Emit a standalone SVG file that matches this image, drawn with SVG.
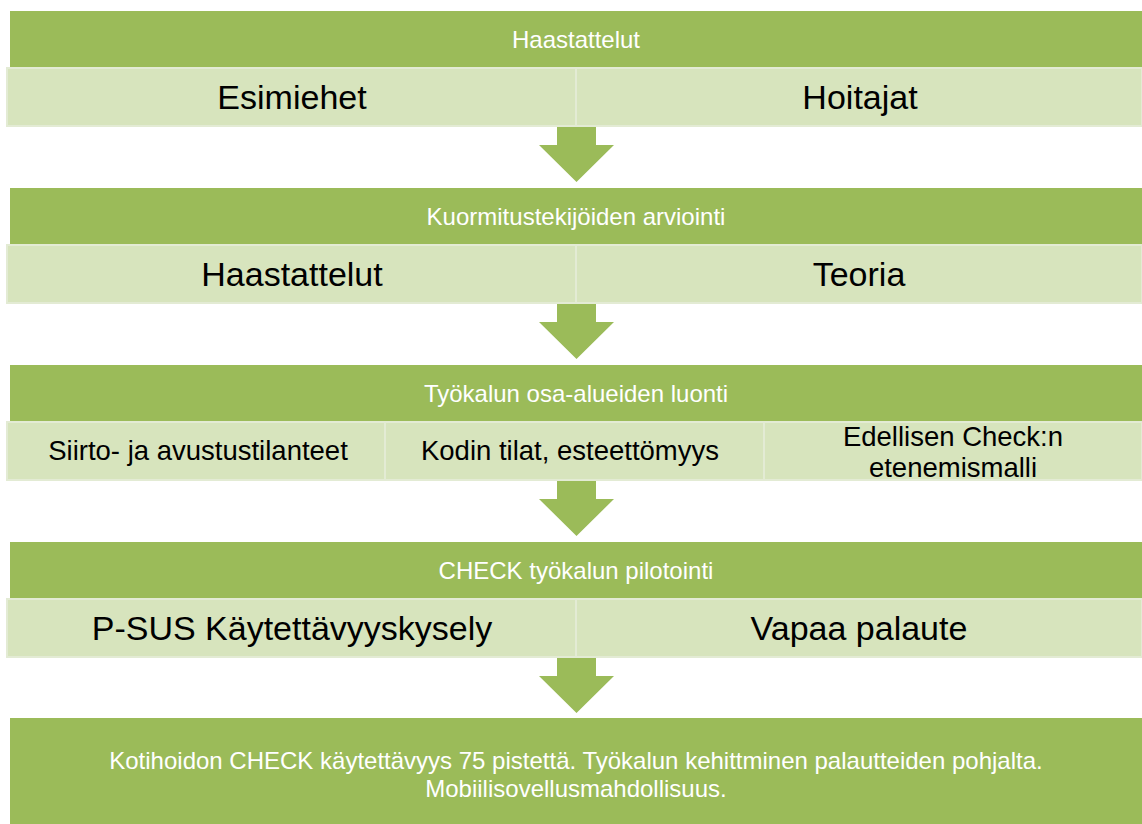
<svg xmlns="http://www.w3.org/2000/svg" width="1142" height="824" viewBox="0 0 1142 824">
<defs>
<style>
.band{fill:#9BBB59}
.sub{fill:#D7E4BD;stroke:#E3EBD4;stroke-width:2}
.arrow{fill:#9BBB59}
.hd{font-family:"Liberation Sans",Arial,sans-serif;font-size:24px;fill:#FFFFFF;text-anchor:middle}
.big{font-family:"Liberation Sans",Arial,sans-serif;font-size:34px;fill:#000000;text-anchor:middle}
.mid{font-family:"Liberation Sans",Arial,sans-serif;font-size:27.5px;fill:#000000;text-anchor:middle}
</style>
<path id="arr" d="M557,0 H596 V19 H614 L576.5,56 L539,19 H557 Z"/>
</defs>
<rect width="1142" height="824" fill="#FFFFFF"/>

<g id="connectors">
<use href="#arr" class="arrow" y="126"/>
<use href="#arr" class="arrow" y="303"/>
<use href="#arr" class="arrow" y="480"/>
<use href="#arr" class="arrow" y="657"/>
</g>

<g id="step1">
<rect class="band" x="10" y="11" width="1132" height="113"/>
<text class="hd" x="576" y="48">Haastattelut</text>
<g id="step1-a"><rect class="sub" x="7" y="68" width="569" height="58"/><text class="big" x="292" y="109">Esimiehet</text></g>
<g id="step1-b"><rect class="sub" x="576" y="68" width="566" height="58"/><text class="big" x="860" y="109">Hoitajat</text></g>
</g>

<g id="step2">
<rect class="band" x="10" y="188" width="1132" height="113"/>
<text class="hd" x="576" y="225">Kuormitustekijöiden arviointi</text>
<g id="step2-a"><rect class="sub" x="7" y="245" width="569" height="58"/><text class="big" x="292" y="286">Haastattelut</text></g>
<g id="step2-b"><rect class="sub" x="576" y="245" width="566" height="58"/><text class="big" x="859" y="286">Teoria</text></g>
</g>

<g id="step3">
<rect class="band" x="10" y="365" width="1132" height="113"/>
<text class="hd" x="576" y="402">Työkalun osa-alueiden luonti</text>
<g id="step3-a"><rect class="sub" x="7" y="422" width="378" height="58"/><text class="mid" x="198" y="460">Siirto- ja avustustilanteet</text></g>
<g id="step3-b"><rect class="sub" x="385" y="422" width="379" height="58"/><text class="mid" x="570" y="460">Kodin tilat, esteettömyys</text></g>
<g id="step3-c"><rect class="sub" x="764" y="422" width="378" height="58"/><text class="mid" x="953" y="446">Edellisen Check:n</text><text class="mid" x="953" y="477">etenemismalli</text></g>
</g>

<g id="step4">
<rect class="band" x="10" y="542" width="1132" height="113"/>
<text class="hd" x="576" y="579">CHECK työkalun pilotointi</text>
<g id="step4-a"><rect class="sub" x="7" y="599" width="569" height="58"/><text class="big" x="292" y="640">P-SUS Käytettävyyskysely</text></g>
<g id="step4-b"><rect class="sub" x="576" y="599" width="566" height="58"/><text class="big" x="859" y="640">Vapaa palaute</text></g>
</g>

<g id="step5">
<rect class="band" x="10" y="718" width="1132" height="106"/>
<text class="hd" x="576" y="769">Kotihoidon CHECK käytettävyys 75 pistettä. Työkalun kehittminen palautteiden pohjalta.</text>
<text class="hd" x="576" y="797">Mobiilisovellusmahdollisuus.</text>
</g>
</svg>
